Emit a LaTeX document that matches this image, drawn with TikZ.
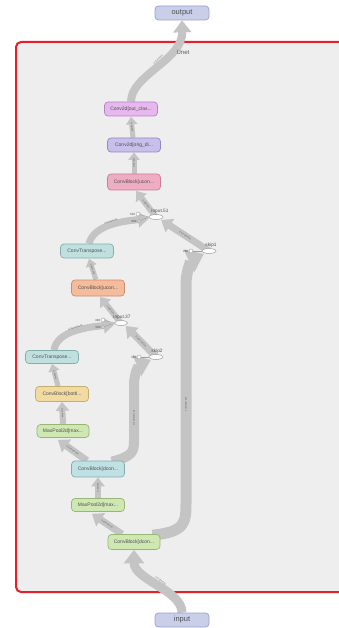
\documentclass[tikz,border=0pt]{standalone}
\usepackage{fontspec}
\setmainfont{Liberation Sans}
\usetikzlibrary{arrows.meta,calc,shapes.geometric,backgrounds}
\definecolor{edgegray}{HTML}{C4C4C4}
\definecolor{panel}{HTML}{EEEEEE}
\definecolor{framered}{HTML}{E5202A}
\definecolor{txt}{HTML}{505050}
\definecolor{ioF}{HTML}{C9CEE9}\definecolor{ioD}{HTML}{98A2CE}
\definecolor{ocF}{HTML}{E6B8EE}\definecolor{ocD}{HTML}{B584C4}
\definecolor{orF}{HTML}{C8BFEA}\definecolor{orD}{HTML}{9487C7}
\definecolor{pkF}{HTML}{EFADC3}\definecolor{pkD}{HTML}{C97E96}
\definecolor{ctF}{HTML}{C0E0E0}\definecolor{ctD}{HTML}{84ADAC}
\definecolor{obF}{HTML}{F4BC9C}\definecolor{obD}{HTML}{CB8E6C}
\definecolor{btF}{HTML}{F1DBA2}\definecolor{btD}{HTML}{C6AE70}
\definecolor{mpF}{HTML}{CFE7B3}\definecolor{mpD}{HTML}{96B775}
\definecolor{cmF}{HTML}{BFE1E4}\definecolor{cmD}{HTML}{82ACB2}
\tikzset{
  op/.style={rectangle, rounded corners=3.5pt, line width=0.7pt, minimum width=53pt,
    minimum height=14pt, inner sep=0pt, text=txt, font=\fontsize{5}{5.5}\selectfont},
  io/.style={op, fill=ioF, draw=ioD, minimum width=54pt, font=\fontsize{7.5}{8}\selectfont},
  ell/.style={ellipse, draw=gray!75, fill=white, line width=0.5pt, minimum width=14pt,
    minimum height=5pt, inner sep=0pt},
  sc/.style={circle, draw=gray!75, fill=white, line width=0.4pt, minimum size=4pt, inner sep=0pt},
  lab/.style={text=txt, font=\fontsize{4.8}{5}\selectfont, inner sep=0pt},
  num/.style={text=txt, font=\fontsize{3}{3}\selectfont, inner sep=0.5pt},
  edge/.style={draw=edgegray, line width=#1, -{Triangle[width=0pt 2.2, length=0pt 1.5]}},
  elab/.style={sloped, text=gray!60!black, font=\fontsize{2}{2}\selectfont, inner sep=0pt},
  thin/.style={draw=gray!75, line width=0.4pt}
}
\begin{document}
\begin{tikzpicture}[x=1pt,y=-1pt]
\useasboundingbox (0,0) rectangle (339,628);
\clip (0,0) rectangle (339,628);
% nodes
\node[io] (out) at (182,13) {output};
\node[io] (inp) at (182,620) {input};
\node[lab, text=gray!70!black, font=\fontsize{6}{6}\selectfont] (unet) at (183,52) {Unet};
\node[op, fill=ocF, draw=ocD] (oc) at (131,109) {Conv2d[out\_clas...};
\node[op, fill=orF, draw=orD] (orig) at (134,145) {Conv2d[orig\_di...};
\node[op, fill=pkF, draw=pkD, minimum height=16pt] (pk) at (134,182) {ConvBlock[ucon...};
\node[op, fill=ctF, draw=ctD] (ct1) at (87,251) {ConvTranspose...};
\node[op, fill=obF, draw=obD, minimum height=16pt] (ob) at (98,288) {ConvBlock[ucon...};
\node[op, fill=ctF, draw=ctD, minimum height=13pt] (ct2) at (52,357) {ConvTranspose...};
\node[op, fill=btF, draw=btD, minimum height=15pt] (bot) at (62,394) {ConvBlock[bottl...};
\node[op, fill=mpF, draw=mpD, minimum width=52pt, minimum height=13pt] (mpt) at (63,431) {MaxPool2d[max...};
\node[op, fill=cmF, draw=cmD, minimum height=16pt] (cbm) at (98,469) {ConvBlock[dcon...};
\node[op, fill=mpF, draw=mpD, minimum height=13pt] (mpb) at (98,505) {MaxPool2d[max...};
\node[op, fill=mpF, draw=mpD, minimum width=52pt, minimum height=15pt] (cbb) at (134,542) {ConvBlock[dcon...};
% join nodes
\node[ell] (i51) at (156,217) {};
\node[lab, anchor=south] (i51l) at (160,213.5) {input.51};
\node[sc] (a1) at (138,214) {};
\node[sc, minimum size=3pt] (a2) at (139,221) {};
\node[num, anchor=east] at (a1.west) {602};
\node[num, anchor=east] at (a2.west) {602};
\draw[thin] (a1) -- (i51.west);
\draw[thin] (a2) -- (i51.west);
\node[ell] (s1) at (209,251) {};
\node[lab, anchor=south] (s1l) at (211,247.5) {skip1};
\node[sc] (b1) at (191,251) {};
\node[num, anchor=east] at (b1.west) {288};
\draw[thin] (b1) -- (s1.west);
\node[ell, minimum width=13pt] (i37) at (121,323) {};
\node[lab, anchor=south] (i37l) at (122,319.5) {input.37};
\node[sc] (c1) at (103,320) {};
\node[sc, minimum size=3pt] (c2) at (103,327) {};
\node[num, anchor=east] at (c1.west) {499};
\node[num, anchor=east] at (c2.west) {500};
\draw[thin] (c1) -- (i37.west);
\draw[thin] (c2) -- (i37.west);
\node[ell] (s2) at (156,357) {};
\node[lab, anchor=south] (s2l) at (157,353.5) {skip2};
\node[sc] (d1) at (139,357) {};
\node[num, anchor=east] at (d1.west) {384};
\draw[thin] (d1) -- (s2.west);
% frame and edges below nodes
\begin{scope}[on background layer]
\fill[white] (0,0) rectangle (339,628);
\draw[framered, line width=2pt, fill=panel, rounded corners=5pt] (16,42) rectangle (370,592);
\draw[edge=9pt] (inp.north) .. controls (182,590) and (134,580) .. (cbb.south)
  node[elab, pos=0.5, above=-1pt] {1×3×256×256};
\draw[edge=7pt] ($(cbb.north)+(-12,0)$) -- ($(mpb.south)+(-6,2)$)
  node[elab, midway] {1×64×256×256};
\draw[edge=11pt] ($(cbb.north east)+(-8,1)$) .. controls (186,532) and (186,522) .. (186,502)
  -- (186,285) node[elab, pos=0.45] {1×64×256×256}
  .. controls (186,268) and (193,259) .. ($(s1.south west)+(0,1)$);
\draw[edge=6pt] (mpb.north) -- (cbm.south) node[elab, midway] {1×64×128};
\draw[edge=7pt] ($(cbm.north)+(-11,0)$) -- ($(mpt.south)+(-5,2)$)
  node[elab, midway] {1×128×128×128};
\draw[edge=10pt] ($(cbm.north east)+(-13,1)$) .. controls (133,456) and (134,452) .. (134,440)
  -- (134,385) node[elab, pos=0.4] {1×128×128×128}
  .. controls (134,370) and (141,364) .. ($(s2.south west)+(0,1)$);
\draw[edge=6pt] (mpt.north) -- (bot.south) node[elab, midway] {1×128×64};
\draw[edge=5pt] ($(bot.north)+(-4,0)$) -- (ct2.south) node[elab, midway] {1×256×64};
\draw[edge=7pt] ($(ct2.north)+(2,0)$) .. controls (57,330) and (90,327) .. ($(i37.west)+(0,1.5)$)
  node[elab, pos=0.5, above=-1pt] {1×128×128×128};
\draw[edge=7pt] (s2.center) -- ($(i37.south east)+(0,1)$) node[elab, midway] {1×128×128×128};
\draw[edge=6pt] (i37.center) -- ($(ob.south)+(2,0.5)$) node[elab, midway] {1×256×128};
\draw[edge=5pt] ($(ob.north)+(-2,0)$) -- ($(ct1.south)+(2,0.5)$) node[elab, midway] {1×128×128};
\draw[edge=7pt] ($(ct1.north)+(2,0)$) .. controls (94,224) and (125,221) .. ($(i51.west)+(0,1.5)$)
  node[elab, pos=0.5, above=-1pt] {1×64×256×256};
\draw[edge=7pt] (s1.center) -- ($(i51.south east)+(0,1)$) node[elab, midway] {1×64×256×256};
\draw[edge=6pt] (i51.center) -- ($(pk.south)+(2,0.5)$) node[elab, midway] {1×128×256};
\draw[edge=5pt] (pk.north) -- (orig.south) node[elab, midway] {1×64×256};
\draw[edge=5pt] ($(orig.north)+(-1,0)$) -- ($(oc.south)+(0,0.5)$) node[elab, midway] {1×64×256};
\draw[edge=8pt] (oc.north) .. controls (131,75) and (183,60) .. (out.south)
  node[elab, pos=0.55, above=-1pt] {1×2×256×256};
\end{scope}
\end{tikzpicture}
\end{document}
